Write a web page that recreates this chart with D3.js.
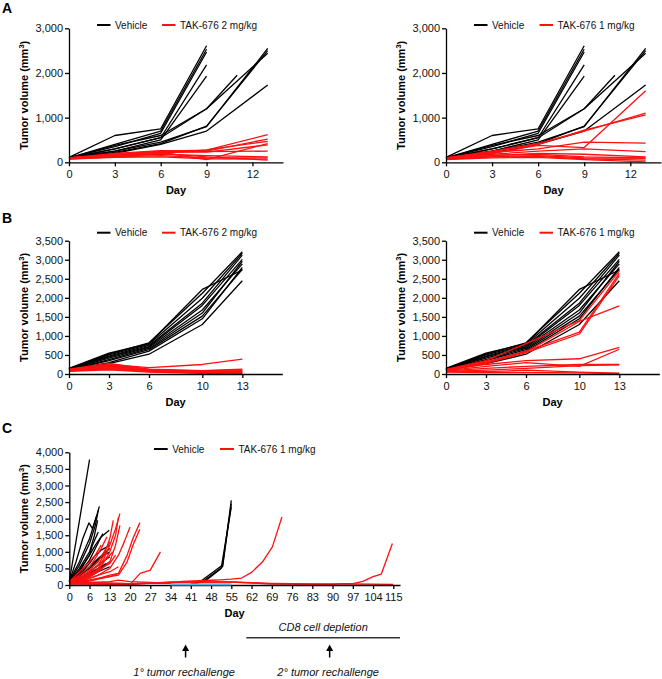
<!DOCTYPE html>
<html><head><meta charset="utf-8">
<script src="https://cdn.jsdelivr.net/npm/d3@7"></script>
<style>body{margin:0;background:#fff}svg{display:block}</style>
</head><body><svg id="c" width="662" height="679"></svg>
<script>
// ---------------- DATA ----------------
const daysA = [0, 3, 6, 9, 11, 13];
const ticksA = [0, 3, 6, 9, 12];
const yTicksA = [0, 1000, 2000, 3000];
const vehicleA = [
  [110, 600, 750, 2610, null, null],
  [100, 400, 700, 2530, null, null],
  [100, 350, 650, 2470, null, null],
  [90, 300, 550, 2180, null, null],
  [100, 250, 500, 1930, null, null],
  [100, 380, 600, 1200, 1950, null],
  [100, 300, 550, 1200, null, 2440],
  [100, 250, 450, 800, null, 2550],
  [100, 220, 420, 810, null, 2500],
  [90, 200, 400, 700, null, 1730]
];
const tak2A = [
  [100, 180, 250, 270, null, 620],
  [100, 200, 260, 250, null, 520],
  [90, 150, 200, 280, null, 470],
  [100, 170, 230, 60, null, 420],
  [90, 160, 220, 230, null, 390],
  [100, 140, 250, 240, null, 250],
  [80, 130, 180, 150, null, 120],
  [80, 120, 150, 100, null, 100],
  [70, 110, 120, 80, null, 70],
  [90, 150, 200, 120, null, 50]
];
const tak1A = [
  [100, 250, 420, 700, null, 1100],
  [100, 230, 400, 720, null, 1060],
  [90, 200, 380, 330, null, 1600],
  [100, 220, 300, 450, null, 430],
  [90, 180, 250, 300, null, 240],
  [80, 150, 200, 180, null, 120],
  [80, 130, 150, 100, null, 90],
  [70, 120, 130, 80, null, 50],
  [60, 100, 110, 60, null, 10],
  [90, 160, 180, 120, null, 100]
];

const daysB = [0, 3, 6, 10, 13];
const ticksB = [0, 3, 6, 10, 13];
const yTicksB = [0, 500, 1000, 1500, 2000, 2500, 3000, 3500];
const vehicleB = [
  [150, 550, 800, 2220, 2730],
  [140, 520, 820, 2120, 3210],
  [130, 500, 780, 1990, 3170],
  [130, 470, 750, 1860, 3120],
  [120, 450, 720, 1800, 3010],
  [120, 420, 700, 1680, 2890],
  [110, 380, 670, 1600, 2960],
  [110, 350, 640, 1520, 2750],
  [100, 300, 600, 1450, 2800],
  [100, 270, 520, 1300, 2450]
];
const tak2B = [
  [100, 250, 170, 250, 390],
  [130, 280, 130, 90, 130],
  [120, 230, 110, 80, 110],
  [110, 210, 100, 70, 90],
  [100, 190, 90, 60, 70],
  [90, 170, 80, 50, 50],
  [80, 150, 70, 40, 30],
  [80, 130, 60, 30, 20],
  [100, 240, 120, 60, 60],
  [70, 110, 50, 20, 10]
];
const tak1B = [
  [120, 350, 800, 1400, 2700],
  [110, 300, 600, 1100, 2640],
  [100, 280, 560, 1050, 2580],
  [110, 320, 580, 1380, 1790],
  [100, 250, 350, 400, 700],
  [90, 200, 300, 200, 650],
  [80, 150, 200, 250, 250],
  [70, 100, 150, 220, 240],
  [60, 60, 100, 50, 20],
  [50, 40, 40, 30, 10]
];

const ticksC = [0, 6, 13, 20, 27, 34, 41, 48, 55, 62, 69, 76, 83, 90, 97, 104, 115];
const yTicksC = [0, 500, 1000, 1500, 2000, 2500, 3000, 3500, 4000];
// each mouse: [day, volume] pairs
const vehicleC = [
  [[0,100],[6,3780]],
  [[0,120],[3,700],[6,1400],[8,1950],[9.4,2370]],
  [[0,100],[3,600],[6,1250],[8,1800],[9,2250]],
  [[0,110],[2,700],[4,1400],[5.8,1870],[7,1700],[8.5,2100]],
  [[0,90],[3,500],[6,1000],[7.7,1500],[8.8,1950]],
  [[0,100],[3,400],[6,900],[8,1200],[10,1450],[12.8,1650]],
  [[0,90],[3,350],[6,750],[8,1100],[10.6,1550]],
  [[0,100],[3,300],[6,650],[8,900],[10,1050],[13,1200]],
  [[0,80],[3,250],[6,550],[9,800],[13,1100]],
  [[0,100],[3,300],[6,500],[9,750],[11,900],[13,1000]],
  [[0,90],[3,200],[6,400],[9,600],[13,850]],
  [[0,80],[3,200],[6,350],[9,500],[11.7,650]],
  [[0,70],[3,150],[6,300],[9,450],[13,700]],
  [[0,100],[3,450],[6,900],[7,1200],[9,1600]],
  [[0,60],[3,150],[6,250],[9,400],[13,550]],
  [[41,30],[45,150],[52,600],[55,2550]],
  [[42,30],[46,120],[51.5,500],[55,2350]],
  [[41,30],[45,100],[52,550],[55,2450]]
];
const tak1C = [
  [[0,100],[3,180],[6,300],[9,500],[11,800],[13,1200],[15,1700],[16.5,2150]],
  [[0,100],[3,150],[6,250],[9,450],[11,700],[13,1000],[15,1500],[16,2050]],
  [[0,90],[3,200],[6,350],[9,600],[11,900],[13,1400],[14.2,1950]],
  [[0,80],[3,150],[6,250],[9,400],[13,700],[15,1200],[16.5,1800]],
  [[0,100],[3,120],[6,200],[9,300],[13,500],[16,900],[18,1300],[20,1750]],
  [[0,80],[3,100],[6,150],[9,200],[13,300],[16,350],[19,900],[21,1400],[23.4,1880]],
  [[0,70],[3,90],[6,120],[9,180],[13,250],[16,300],[19,700],[21,1200],[23.4,1680]],
  [[0,50],[6,60],[13,50],[20,20],[23.5,350],[27,450],[30.5,1000]],
  [[0,100],[3,250],[6,450],[9,700],[11,1000],[13,1300]],
  [[0,90],[3,300],[6,550],[8,800],[10,1100],[12,1450]],
  [[0,100],[3,200],[6,400],[9,600],[12,800],[14,1000]],
  [[0,80],[3,150],[6,300],[9,450],[13,650],[15,900]],
  [[0,70],[3,120],[6,200],[9,300],[13,400],[16,550]],
  [[0,60],[3,100],[6,150],[9,200],[13,250],[16,350]],
  [[0,100],[2,300],[4,500],[6,700],[8,900],[10,1200]],
  [[0,50],[6,80],[13,100],[16,150],[20,100],[27,80],[30,60],[34,50]],
  [[0,60],[6,80],[13,60],[20,40],[27,60],[30,50],[34,50],[38,110],[50,150],[55,180],[58.6,210],[62,380],[65.8,700],[69.2,1150],[72.5,2050]],
  [[0,50],[6,40],[13,30],[20,20],[27,50],[34,90],[55,90],[69,30],[90,20],[93,40],[97,40],[100.5,110],[104,250],[108.5,330],[114.5,1250]],
  [[0,30],[20,20],[27,60],[30,70],[34,80],[41,90],[55,90],[69,50],[83,30],[97,30],[115,20]]
];
const naiveC = [
  [[34,20],[55,20]]
];
const eventsC = { rechallenge1: 39.2, rechallenge2: 89, cd8Start: 60.2, cd8End: 118.5 };

// ---------------- DRAWING ----------------
const FONT = '"Liberation Sans", Arial, Helvetica, sans-serif';
const RED = "#ff1010", BLACK = "#000000", BLUE = "#55b8e8";
const svg = d3.select("#c");
const toPts = (days, vals) => days.map((d, i) => [d, vals[i]]).filter(p => p[1] != null);

function panel(o) {
  const g = svg.append("g");
  const line = d3.line().x(d => o.x(d[0])).y(d => o.y(d[1]));
  const drawGroup = gr => gr.lines.forEach(pts => {
    g.append("path").attr("d", line(pts)).attr("fill", "none")
      .attr("stroke", gr.color).attr("stroke-width", gr.width || 1.3)
      .attr("stroke-linejoin", "round").attr("stroke-linecap", "butt");
  });
  o.groups.filter(gr => !gr.top).forEach(drawGroup);
  const x0 = o.x.range()[0], x1 = o.x.range()[o.x.range().length - 1];
  const y0 = o.y(0), y1 = o.y.range()[1];
  const ax = g.append("g").attr("transform", `translate(0,${y0})`)
    .call(d3.axisBottom(o.x).tickValues(o.xTicks).tickSize(4).tickPadding(4).tickSizeOuter(0));
  const ay = g.append("g").attr("transform", `translate(${x0},0)`)
    .call(d3.axisLeft(o.y).tickValues(o.yTicks).tickFormat(d3.format(",")).tickSize(4).tickPadding(2).tickSizeOuter(0));
  [ax, ay].forEach(a => {
    a.attr("font-family", FONT).attr("font-size", 11);
    a.selectAll("path,line").attr("stroke", "#000").attr("stroke-width", 1.3);
    a.selectAll("text").attr("fill", "#111");
  });
  o.groups.filter(gr => gr.top).forEach(drawGroup);
  // axis titles
  g.append("text").attr("x", (x0 + x1) / 2).attr("y", y0 + 31.5).attr("text-anchor", "middle")
    .attr("font-family", FONT).attr("font-size", 11).attr("font-weight", "bold").text("Day");
  const yl = g.append("text").attr("transform", `translate(${x0 - 41},${(y0 + y1) / 2}) rotate(-90)`)
    .attr("text-anchor", "middle").attr("font-family", FONT).attr("font-size", 11).attr("font-weight", "bold");
  yl.append("tspan").text("Tumor volume (mm");
  yl.append("tspan").attr("font-size", 7.5).attr("dy", -4).text("3");
  yl.append("tspan").attr("dy", 4).text(")");
  // legend
  o.legend.items.forEach(it => {
    g.append("line").attr("x1", it.x0).attr("x2", it.x1).attr("y1", o.legend.y).attr("y2", o.legend.y)
      .attr("stroke", it.color).attr("stroke-width", 2);
    g.append("text").attr("x", it.x1 + 4.5).attr("y", o.legend.y).attr("dy", "0.35em")
      .attr("font-family", FONT).attr("font-size", 10).attr("fill", "#111").text(it.label);
  });
  if (o.letter) {
    svg.append("text").attr("x", 2).attr("y", o.letter.y).attr("font-family", FONT)
      .attr("font-size", 14).attr("font-weight", "bold").text(o.letter.t);
  }
}

const yA = d3.scaleLinear().domain([0, 3000]).range([162.3, 28.3]);
const yB = d3.scaleLinear().domain([0, 3500]).range([374, 240.7]);
const yC = d3.scaleLinear().domain([0, 4000]).range([585, 452.3]);

panel({
  x: d3.scaleLinear().domain([0, 14]).range([69, 283]), y: yA, xTicks: ticksA, yTicks: yTicksA,
  groups: [{ color: BLACK, lines: vehicleA.map(v => toPts(daysA, v)) }, { color: RED, lines: tak2A.map(v => toPts(daysA, v)) }],
  legend: { y: 25, items: [{ x0: 97, x1: 110.5, color: BLACK, label: "Vehicle" }, { x0: 162, x1: 175.5, color: RED, label: "TAK-676 2 mg/kg" }] },
  letter: { t: "A", y: 13 }
});
panel({
  x: d3.scaleLinear().domain([0, 14]).range([446, 661]), y: yA, xTicks: ticksA, yTicks: yTicksA,
  groups: [{ color: BLACK, lines: vehicleA.map(v => toPts(daysA, v)) }, { color: RED, lines: tak1A.map(v => toPts(daysA, v)) }],
  legend: { y: 25, items: [{ x0: 474, x1: 487.5, color: BLACK, label: "Vehicle" }, { x0: 539.5, x1: 553, color: RED, label: "TAK-676 1 mg/kg" }] }
});
panel({
  x: d3.scaleLinear().domain([0, 16]).range([69, 282.3]), y: yB, xTicks: ticksB, yTicks: yTicksB,
  groups: [{ color: BLACK, lines: vehicleB.map(v => toPts(daysB, v)) }, { color: RED, lines: tak2B.map(v => toPts(daysB, v)) }],
  legend: { y: 232.7, items: [{ x0: 97, x1: 110.5, color: BLACK, label: "Vehicle" }, { x0: 162, x1: 175.5, color: RED, label: "TAK-676 2 mg/kg" }] },
  letter: { t: "B", y: 223 }
});
panel({
  x: d3.scaleLinear().domain([0, 16]).range([446, 659.3]), y: yB, xTicks: ticksB, yTicks: yTicksB,
  groups: [{ color: BLACK, lines: vehicleB.map(v => toPts(daysB, v)) }, { color: RED, lines: tak1B.map(v => toPts(daysB, v)) }],
  legend: { y: 232.7, items: [{ x0: 474, x1: 487.5, color: BLACK, label: "Vehicle" }, { x0: 539.5, x1: 553, color: RED, label: "TAK-676 1 mg/kg" }] }
});

// Panel C: evenly spaced ticks (piecewise linear scale)
const xC = d3.scaleLinear()
  .domain([...ticksC, eventsC.cd8End])
  .range([...ticksC.map((d, i) => 69.3 + i * 20.25), 400]);
panel({
  x: xC, y: yC, xTicks: ticksC, yTicks: yTicksC,
  groups: [{ color: BLACK, lines: vehicleC }, { color: RED, lines: tak1C }, { color: BLUE, lines: naiveC, width: 2.4, top: true }],
  legend: { y: 449, items: [{ x0: 154, x1: 167.7, color: BLACK, label: "Vehicle" }, { x0: 220, x1: 234, color: RED, label: "TAK-676 1 mg/kg" }] },
  letter: { t: "C", y: 433 }
});

// annotations for C
const ann = svg.append("g").attr("font-family", FONT).attr("font-size", 11).attr("font-style", "italic").attr("fill", "#111");
const cdA = xC(eventsC.cd8Start), cdB = xC(eventsC.cd8End);
ann.append("text").attr("x", (cdA + cdB) / 2).attr("y", 631).attr("text-anchor", "middle").text("CD8 cell depletion");
svg.append("line").attr("x1", cdA).attr("x2", cdB).attr("y1", 637.7).attr("y2", 637.7).attr("stroke", "#333").attr("stroke-width", 1.5);
[["1° tumor rechallenge", eventsC.rechallenge1], ["2° tumor rechallenge", eventsC.rechallenge2]].forEach(([t, d]) => {
  const x = xC(d);
  svg.append("line").attr("x1", x).attr("x2", x).attr("y1", 657.5).attr("y2", 650).attr("stroke", "#000").attr("stroke-width", 1.5);
  svg.append("path").attr("d", `M${x - 3.5},651 L${x + 3.5},651 L${x},644.5 Z`).attr("fill", "#000");
  ann.append("text").attr("x", x - 1.5).attr("y", 676).attr("text-anchor", "middle").text(t);
});
</script></body></html>
